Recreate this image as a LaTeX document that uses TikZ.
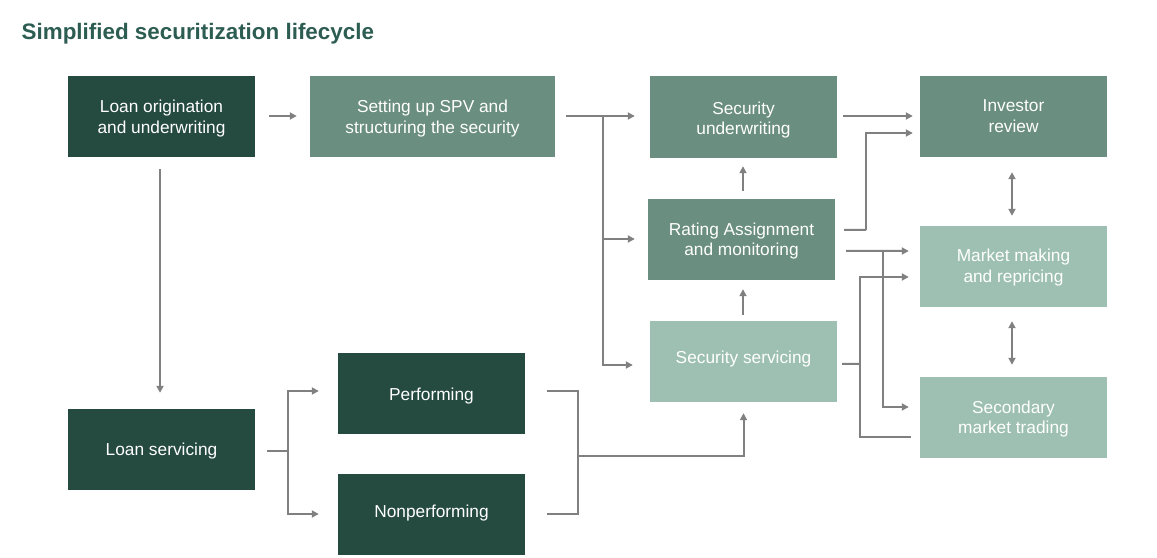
\documentclass[tikz,border=0pt]{standalone}
\usepackage{fontspec}
\setmainfont{Liberation Sans}
\usetikzlibrary{arrows.meta}
\definecolor{cdark}{HTML}{254A3F}
\definecolor{cmid}{HTML}{6A8E80}
\definecolor{clight}{HTML}{9DC0B3}
\definecolor{ctitle}{HTML}{2D5D52}
\definecolor{cline}{HTML}{808080}
% box text: lowered by #1 bp without changing the box used for centring
\newcommand\bxtext[2]{\raisebox{-#1bp}[\height][\depth]{\begin{tabular}{@{}c@{}}#2\end{tabular}}}
\tikzset{
  box/.style={rectangle, inner sep=0pt, minimum width=187bp, minimum height=81bp,
    text=white, align=center, font=\fontsize{17.3bp}{20.6bp}\selectfont},
  darkbox/.style={box, fill=cdark},
  midbox/.style={box, fill=cmid},
  lightbox/.style={box, fill=clight},
  ln/.style={draw=cline, line width=2bp},
  arr/.style={ln, -{Triangle[length=7bp,width=7bp]}},
  darr/.style={ln, {Triangle[length=7bp,width=7bp]}-{Triangle[length=7bp,width=7bp]}}
}
\begin{document}
\begin{tikzpicture}[x=1bp,y=-1bp]
\useasboundingbox (0,0) rectangle (1157,558);
\node[anchor=base west, inner sep=0pt, text=ctitle, font=\bfseries\fontsize{22.4bp}{26bp}\selectfont] (title) at (21.5,40) {Simplified securitization lifecycle};

\node[darkbox] (orig) at (161.5,116.5) {\bxtext{2.4}{Loan origination\\and underwriting}};
\node[midbox, minimum width=245bp] (spv) at (432.5,116.5) {\bxtext{2.4}{Setting up SPV and\\structuring the security}};
\node[midbox, minimum height=82bp] (und) at (743.5,117) {\bxtext{3.4}{Security\\underwriting}};
\node[midbox] (inv) at (1013.5,116.5) {\bxtext{1.5}{Investor\\review}};
\node[midbox] (rat) at (741.5,239.5) {\bxtext{1.7}{Rating Assignment\\and monitoring}};
\node[lightbox] (mm) at (1013.5,266.5) {\bxtext{1.5}{Market making\\and repricing}};
\node[lightbox] (ser) at (743.5,361.5) {\bxtext{-1.8}{Security servicing}};
\node[lightbox] (sec) at (1013.5,417.5) {\bxtext{2}{Secondary\\market trading}};
\node[darkbox] (ls) at (161.5,449.5) {\bxtext{2}{Loan servicing}};
\node[darkbox] (perf) at (431.5,393.5) {\bxtext{3}{Performing}};
\node[darkbox] (nonp) at (431.5,514.5) {\bxtext{-0.9}{Nonperforming}};

% junction coordinates
\coordinate (fspv) at (603,116);
\coordinate (frat) at (866,230);
\coordinate (fmm) at (883,251);
\coordinate (fser) at (860,364);
\coordinate (fls) at (288,451);
\coordinate (fperf) at (578,456);

% origination
\draw[arr] ([xshift=14bp,yshift=0.5bp]orig.east) -- ([xshift=-13bp,yshift=0.5bp]spv.west);
\draw[arr] ([xshift=-1.5bp,yshift=-12bp]orig.south) -- ([xshift=-1.5bp,yshift=16bp]ls.north);

% SPV fork
\draw[ln] ([xshift=11bp,yshift=0.5bp]spv.east) -- (fspv);
\draw[arr] (fspv) -- ([xshift=-15bp,yshift=1bp]und.west);
\draw[arr] (fspv) |- ([xshift=-13bp,yshift=0.5bp]rat.west);
\draw[arr] (fspv) |- ([xshift=-17bp,yshift=-3.5bp]ser.west);

% vertical flows in middle column
\draw[arr] ([xshift=-0.5bp,yshift=6bp]ser.north) -- ([xshift=1.5bp,yshift=-9bp]rat.south);
\draw[arr] ([xshift=1.5bp,yshift=8bp]rat.north) -- ([xshift=-0.5bp,yshift=-8bp]und.south);

% underwriting -> investor
\draw[arr] ([xshift=6bp,yshift=1bp]und.east) -- ([xshift=-7bp,yshift=0.5bp]inv.west);
% rating -> investor
\draw[ln] ([xshift=9bp,yshift=9.5bp]rat.east) -- (frat);
\draw[arr] (frat) |- ([xshift=-7bp,yshift=-16.5bp]inv.west);
% rating -> market making, secondary
\draw[ln] ([xshift=11bp,yshift=-11.5bp]rat.east) -- (fmm);
\draw[arr] (fmm) -- ([xshift=-11bp,yshift=15.5bp]mm.west);
\draw[arr] (fmm) |- ([xshift=-11bp,yshift=10.5bp]sec.west);
% servicing -> market making, secondary
\draw[ln] ([xshift=5bp,yshift=-2.5bp]ser.east) -- (fser);
\draw[arr] (fser) |- ([xshift=-11bp,yshift=-10.5bp]mm.west);
\draw[ln] (fser) |- ([xshift=-9bp,yshift=-19.5bp]sec.west);

% right column double arrows
\draw[darr] ([xshift=-1.5bp,yshift=-15bp]inv.south) -- ([xshift=-1.5bp,yshift=10bp]mm.north);
\draw[darr] ([xshift=-1.5bp,yshift=-14bp]mm.south) -- ([xshift=-1.5bp,yshift=12bp]sec.north);

% loan servicing fork
\draw[ln] ([xshift=12bp,yshift=-1.5bp]ls.east) -- (fls);
\draw[arr] (fls) |- ([xshift=-19bp,yshift=2.5bp]perf.west);
\draw[arr] (fls) |- ([xshift=-19bp,yshift=0.5bp]nonp.west);

% performing / nonperforming -> servicing
\draw[ln] ([xshift=22bp,yshift=2.5bp]perf.east) -| (fperf);
\draw[ln] ([xshift=22bp,yshift=0.5bp]nonp.east) -| (fperf);
\draw[arr] (fperf) -| ([yshift=-11bp]ser.south);
\end{tikzpicture}
\end{document}
